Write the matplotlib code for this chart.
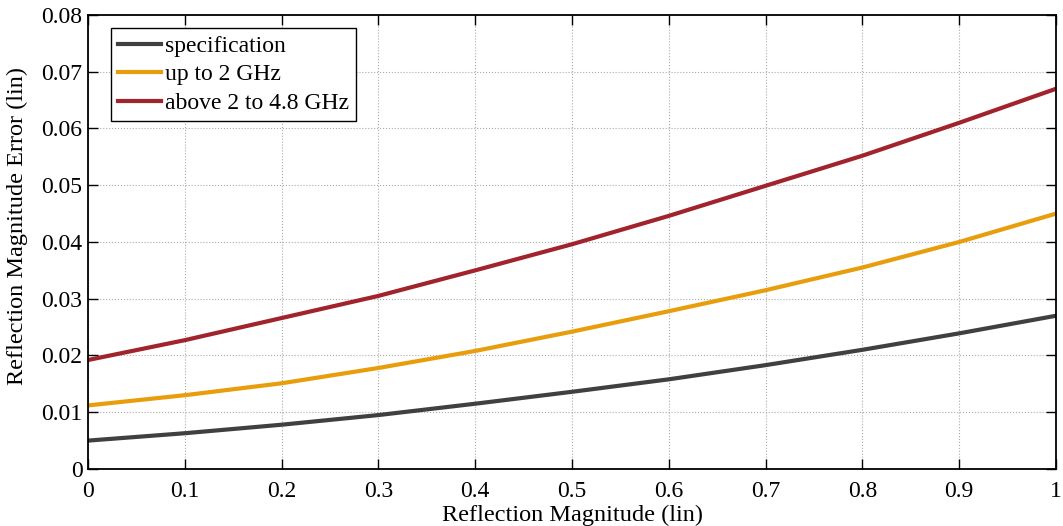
import numpy as np
import matplotlib.pyplot as plt

plt.rcParams['font.family'] = ['Liberation Serif', 'DejaVu Serif']

# Werte
mag = [0.0, 0.1, 0.2, 0.3, 0.4, 0.5, 0.6, 0.7, 0.8, 0.9, 1.0]
spec = [0.0050, 0.0063, 0.0078, 0.0095, 0.0115, 0.0136, 0.0158, 0.0183, 0.0210, 0.0239, 0.0270]
up_to_2 = [0.0112, 0.0130, 0.0151, 0.0178, 0.0208, 0.0242, 0.0278, 0.0315, 0.0355, 0.0400, 0.0450]
above_2 = [0.0192, 0.0227, 0.0266, 0.0305, 0.0350, 0.0396, 0.0446, 0.0499, 0.0552, 0.0610, 0.0670]

fig = plt.figure(figsize=(10.63, 5.26), dpi=100)
ax = fig.add_axes([0.0828, 0.1084, 0.9106, 0.8631])

ax.plot(mag, spec, color='#404040', lw=3, label='specification')
ax.plot(mag, up_to_2, color='#E89E0C', lw=3, label='up to 2 GHz')
ax.plot(mag, above_2, color='#A1232B', lw=3, label='above 2 to 4.8 GHz')

ax.set_xlim(0, 1)
ax.set_ylim(0, 0.08)
ax.set_xticks(np.arange(0, 1.01, 0.1))
ax.set_xticklabels(['0', '0.1', '0.2', '0.3', '0.4', '0.5', '0.6', '0.7', '0.8', '0.9', '1'])
ax.set_yticks(np.arange(0, 0.081, 0.01))
ax.set_yticklabels(['0', '0.01', '0.02', '0.03', '0.04', '0.05', '0.06', '0.07', '0.08'])
ax.tick_params(direction='in', length=7, width=1, labelsize=17, top=True, right=True)
ax.tick_params(axis='x', pad=9)
ax.tick_params(axis='y', pad=4)
ax.grid(True, linestyle=':', color='#aaaaaa', lw=0.8)
for s in ax.spines.values():
    s.set_linewidth(1.3)

ax.set_xlabel('Reflection Magnitude (lin)', fontsize=17.5, labelpad=2)
ax.set_ylabel('Reflection Magnitude Error (lin)', fontsize=17.5)
ax.yaxis.set_label_coords(-0.062, 0.535)

leg = ax.legend(loc='upper left', bbox_to_anchor=(0.0238, 0.971), fontsize=17,
                fancybox=False, edgecolor='black', framealpha=1,
                handlelength=1.8, handletextpad=0.2, borderpad=0.3, labelspacing=0.3,
                borderaxespad=0)
leg.get_frame().set_linewidth(1)

plt.savefig('out.png', dpi=100)
